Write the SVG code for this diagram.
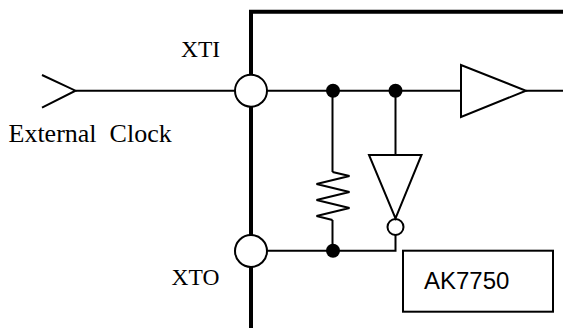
<svg xmlns="http://www.w3.org/2000/svg" width="563" height="328" viewBox="0 0 563 328">
<style>
.w{fill:none;stroke:#000;stroke-width:2;stroke-linejoin:miter}
.pin{fill:#fff;stroke:#000;stroke-width:2}
.dot{fill:#000;stroke:none}
.tr{font-family:"Liberation Serif","Times New Roman",serif;font-size:23.5px;fill:#000}
.ar{font-family:"Liberation Sans",Arial,sans-serif;font-size:24px;fill:#000}
</style>
<rect width="563" height="328" fill="#fff"/>
<g id="chip-boundary">
<polyline points="251,328 251,11.7 563,11.7" fill="none" stroke="#000" stroke-width="4"/>
</g>
<g id="connectors">
<line class="w" x1="75.5" y1="90.7" x2="235" y2="90.7"/>
<line class="w" x1="267" y1="90.7" x2="461" y2="90.7"/>
<line class="w" x1="526" y1="90.7" x2="563" y2="90.7"/>
<line class="w" x1="332.5" y1="90.7" x2="332.5" y2="172"/>
<line class="w" x1="332.5" y1="220" x2="332.5" y2="250.7"/>
<line class="w" x1="395.5" y1="90.7" x2="395.5" y2="155"/>
<polyline class="w" points="395.5,235 395.5,250.7 267,250.7"/>
</g>
<g id="external-clock">
<polyline class="w" points="42,75 75.5,90.7 42,107.7"/>
<text class="tr" x="8.5" y="141.5" xml:space="preserve" style="font-size:26px">External  Clock</text>
</g>
<g id="xti">
<circle class="pin" cx="251" cy="90.7" r="16"/>
<text class="tr" x="181" y="56.7">XTI</text>
</g>
<g id="xto">
<circle class="pin" cx="251" cy="251" r="16"/>
<text class="tr" x="171.5" y="285">XTO</text>
</g>
<g id="resistor">
<polyline class="w" points="332.5,172 349.5,176 316.5,184 349.5,192 316.5,200 349.5,208 316.5,216 332.5,220"/>
</g>
<g id="inverter">
<polygon class="w" points="369,155 421.5,155 395.5,218.5"/>
<circle class="w" cx="395.5" cy="227" r="8"/>
</g>
<g id="buffer">
<polygon class="w" points="461,65 461,117 526,90.7"/>
</g>
<g id="junctions">
<circle class="dot" cx="333" cy="90.7" r="7"/>
<circle class="dot" cx="395.5" cy="90.7" r="7"/>
<circle class="dot" cx="333" cy="250.7" r="7"/>
</g>
<g id="ak7750">
<rect class="w" x="403" y="250.7" width="150" height="61"/>
<text class="ar" x="424" y="289.3">AK7750</text>
</g>
</svg>
